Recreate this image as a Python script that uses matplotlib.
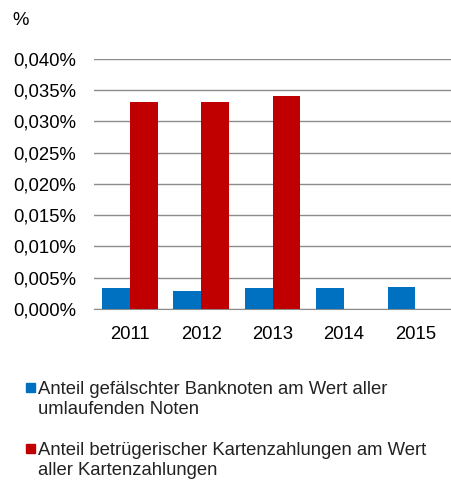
import numpy as np
import matplotlib.pyplot as plt
from matplotlib.patches import Rectangle
from matplotlib.ticker import FuncFormatter

plt.rcParams['font.family'] = ['Liberation Sans', 'DejaVu Sans']

years = ['2011', '2012', '2013', '2014', '2015']
banknotes = [0.00335, 0.0029, 0.0034, 0.0034, 0.0036]
cards = [0.0330, 0.0330, 0.0340, np.nan, np.nan]
label_notes = 'Anteil gefälschter Banknoten am Wert aller\numlaufenden Noten'
label_cards = 'Anteil betrügerischer Kartenzahlungen am Wert\naller Kartenzahlungen'

blue = '#0070C0'
red = '#C00000'
fs = 13.3

fig = plt.figure(figsize=(4.52, 4.8), dpi=100)
ax = fig.add_axes([0.208, 0.356, 0.79, 0.522])

x = np.arange(len(years))
w = 0.39
b1 = ax.bar(x - w / 2, banknotes, w, color=blue, label=label_notes, zorder=3)
b2 = ax.bar(x + w / 2, cards, w, color=red, label=label_cards, zorder=3)

ax.set_xlim(-0.5, len(years) - 0.5)
ax.set_ylim(0, 0.040)
ax.set_yticks(np.arange(0, 0.0401, 0.005))
ax.yaxis.set_major_formatter(FuncFormatter(lambda v, p: f'{v:.3f}%'.replace('.', ',')))
ax.set_xticks(x)
ax.set_xticklabels(years)
ax.tick_params(axis='both', length=0, labelsize=fs, colors='#000000')
ax.tick_params(axis='y', pad=13)
ax.tick_params(axis='x', pad=12)

ax.grid(axis='y', color='#8c8c8c', linewidth=1.0, zorder=0)
for s in ['top', 'right', 'left']:
    ax.spines[s].set_visible(False)
ax.spines['bottom'].set_color('#8c8c8c')

fig.text(0.028, 0.958, '%', fontsize=fs, va='center', ha='left')

# legend drawn by hand so the square sits on the first text line
for bars, label, y_top in [(b1, label_notes, 383), (b2, label_cards, 444)]:
    color = bars.patches[0].get_facecolor()
    fig.patches.append(Rectangle((26 / 452, 1 - (y_top + 9) / 480), 9 / 452, 9 / 480,
                                 transform=fig.transFigure, color=color))
    fig.text(38 / 452, 1 - (y_top - 2) / 480, label, fontsize=fs, color='#222222',
             ha='left', va='top', linespacing=1.2)

fig.savefig('out.png', dpi=100)
